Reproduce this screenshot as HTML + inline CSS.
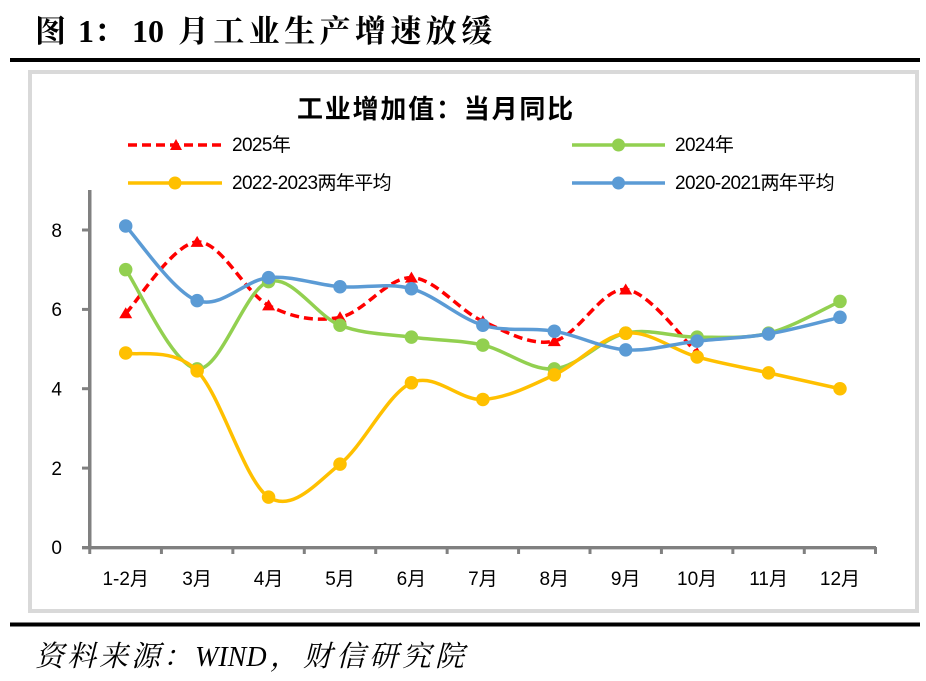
<!DOCTYPE html>
<html>
<head>
<meta charset="utf-8">
<style>
html,body{margin:0;padding:0;background:#fff;}
body{width:926px;height:681px;overflow:hidden;}
svg{display:block;}
.cjkserif{font-family:"Liberation Serif","Noto Serif CJK SC",serif;}
.sans{font-family:"Liberation Sans","Noto Sans CJK SC",sans-serif;}
</style>
</head>
<body>
<svg width="926" height="681" viewBox="0 0 926 681" xmlns="http://www.w3.org/2000/svg">
  <rect x="0" y="0" width="926" height="681" fill="#fff"/>

  <!-- Main title -->
  <g class="cjkserif" font-weight="700" fill="#000">
    <text x="35" y="42" font-size="31">图</text>
    <text x="78" y="42" font-size="32" font-family="Liberation Serif, serif">1</text>
    <text x="94" y="42" font-size="31">：</text>
    <text x="132" y="42" font-size="32" font-family="Liberation Serif, serif">10</text>
    <text x="178" y="42" font-size="31" letter-spacing="4.4">月工业生产增速放缓</text>
  </g>

  <!-- heavy rules -->
  <rect x="10" y="58" width="910" height="4" fill="#000"/>
  <rect x="10" y="622.5" width="910" height="4" fill="#000"/>

  <!-- chart box -->
  <rect x="30" y="72" width="887" height="539" fill="#fff" stroke="#d9d9d9" stroke-width="4"/>

  <!-- chart title -->
  <text x="436" y="118" text-anchor="middle" font-size="26" font-weight="700" letter-spacing="1.8" font-family="Liberation Sans, Noto Sans CJK SC, sans-serif" fill="#000">工业增加值：当月同比</text>

  <!-- legend -->
  <g>
    <line x1="128" y1="145" x2="222" y2="145" stroke="#ff0000" stroke-width="3.5" stroke-dasharray="9 5"/>
    <path d="M176,139 L182,150 L170,150 Z" fill="#ff0000"/>
    <text x="232" y="151" font-size="19" letter-spacing="-0.6" class="sans" fill="#000">2025年</text>

    <line x1="572" y1="145" x2="665" y2="145" stroke="#92d050" stroke-width="3.5"/>
    <circle cx="618.5" cy="145" r="6.5" fill="#92d050"/>
    <text x="675" y="151" font-size="19" letter-spacing="-0.6" class="sans" fill="#000">2024年</text>

    <line x1="128" y1="183" x2="222" y2="183" stroke="#ffc000" stroke-width="3.5"/>
    <circle cx="175" cy="183" r="6.5" fill="#ffc000"/>
    <text x="232" y="189" font-size="19" letter-spacing="-0.6" class="sans" fill="#000">2022-2023两年平均</text>

    <line x1="572" y1="183" x2="665" y2="183" stroke="#5b9bd5" stroke-width="3.5"/>
    <circle cx="618.5" cy="183" r="6.5" fill="#5b9bd5"/>
    <text x="675" y="189" font-size="19" letter-spacing="-0.6" class="sans" fill="#000">2020-2021两年平均</text>
  </g>

  <!-- axes -->
  <g stroke="#808080" fill="none">
    <line x1="89.75" y1="190" x2="89.75" y2="549" stroke-width="3.5"/>
    <line x1="82" y1="547.7" x2="876" y2="547.7" stroke-width="3.3"/>
    <g stroke-width="3">
      <line x1="82" y1="468.1" x2="89" y2="468.1"/>
      <line x1="82" y1="388.7" x2="89" y2="388.7"/>
      <line x1="82" y1="309.4" x2="89" y2="309.4"/>
      <line x1="82" y1="230" x2="89" y2="230"/>
      <line x1="161.43" y1="547" x2="161.43" y2="554"/>
      <line x1="232.86" y1="547" x2="232.86" y2="554"/>
      <line x1="304.29" y1="547" x2="304.29" y2="554"/>
      <line x1="375.71" y1="547" x2="375.71" y2="554"/>
      <line x1="447.14" y1="547" x2="447.14" y2="554"/>
      <line x1="518.57" y1="547" x2="518.57" y2="554"/>
      <line x1="590" y1="547" x2="590" y2="554"/>
      <line x1="661.43" y1="547" x2="661.43" y2="554"/>
      <line x1="732.86" y1="547" x2="732.86" y2="554"/>
      <line x1="804.29" y1="547" x2="804.29" y2="554"/>
      <line x1="875.5" y1="547" x2="875.5" y2="554"/>
      <line x1="89.75" y1="547" x2="89.75" y2="554"/>
    </g>
  </g>

  <!-- y labels -->
  <g class="sans" font-size="19" fill="#000" text-anchor="end">
    <text x="62" y="554">0</text>
    <text x="62" y="475">2</text>
    <text x="62" y="395.5">4</text>
    <text x="62" y="316">6</text>
    <text x="62" y="237">8</text>
  </g>

  <!-- x labels -->
  <g class="sans" font-size="19" fill="#000" text-anchor="middle">
    <text x="125.7" y="585">1-2月</text>
    <text x="197.1" y="585">3月</text>
    <text x="268.6" y="585">4月</text>
    <text x="340" y="585">5月</text>
    <text x="411.4" y="585">6月</text>
    <text x="482.9" y="585">7月</text>
    <text x="554.3" y="585">8月</text>
    <text x="625.7" y="585">9月</text>
    <text x="697.1" y="585">10月</text>
    <text x="768.6" y="585">11月</text>
    <text x="840" y="585">12月</text>
  </g>

  <!-- 2025 red dashed -->
  <path fill="none" stroke="#ff0000" stroke-width="3.5" stroke-dasharray="9 5"
    d="M125.71,313.33 C137.62,301.42 173.33,243.21 197.14,241.89
       C220.95,240.57 244.76,292.82 268.57,305.39
       C292.38,317.96 316.19,321.93 340,317.30
       C363.81,312.67 387.62,276.95 411.43,277.61
       C435.24,278.27 459.05,310.69 482.86,321.27
       C506.67,331.85 530.48,346.40 554.29,341.11
       C578.10,335.82 601.90,287.52 625.71,289.51
       C649.52,291.50 685.24,342.43 697.14,353.02"/>
  <g fill="#ff0000">
    <path d="M125.71,307.3 L132.2,318.3 L119.2,318.3 Z"/>
    <path d="M197.14,235.9 L203.6,246.9 L190.6,246.9 Z"/>
    <path d="M268.57,299.4 L275.1,310.4 L262.1,310.4 Z"/>
    <path d="M340,311.3 L346.5,322.3 L333.5,322.3 Z"/>
    <path d="M411.43,271.6 L417.9,282.6 L404.9,282.6 Z"/>
    <path d="M482.86,315.3 L489.4,326.3 L476.4,326.3 Z"/>
    <path d="M554.29,335.1 L560.8,346.1 L547.8,346.1 Z"/>
    <path d="M625.71,283.5 L632.2,294.5 L619.2,294.5 Z"/>
    <path d="M697.14,347.0 L703.6,358.0 L690.6,358.0 Z"/>
  </g>

  <!-- 2024 green -->
  <path fill="none" stroke="#92d050" stroke-width="3.5"
    d="M125.71,269.67 C137.62,286.21 173.33,366.90 197.14,368.89
       C220.95,370.88 244.76,288.86 268.57,281.58
       C292.38,274.30 316.19,315.98 340,325.24
       C363.81,334.50 387.62,333.83 411.43,337.14
       C435.24,340.45 459.05,339.79 482.86,345.08
       C506.67,350.37 530.48,370.88 554.29,368.89
       C578.10,366.90 601.90,338.46 625.71,333.17
       C649.52,327.88 673.33,337.14 697.14,337.14
       C720.95,337.14 744.76,339.12 768.57,333.17
       C792.38,327.22 828.10,306.71 840,301.42"/>
  <g fill="#92d050">
    <circle cx="125.71" cy="269.67" r="6.75"/>
    <circle cx="197.14" cy="368.89" r="6.75"/>
    <circle cx="268.57" cy="281.58" r="6.75"/>
    <circle cx="340" cy="325.24" r="6.75"/>
    <circle cx="411.43" cy="337.14" r="6.75"/>
    <circle cx="482.86" cy="345.08" r="6.75"/>
    <circle cx="554.29" cy="368.89" r="6.75"/>
    <circle cx="625.71" cy="333.17" r="6.75"/>
    <circle cx="697.14" cy="337.14" r="6.75"/>
    <circle cx="768.57" cy="333.17" r="6.75"/>
    <circle cx="840" cy="301.42" r="6.75"/>
  </g>

  <!-- 2022-2023 yellow -->
  <path fill="none" stroke="#ffc000" stroke-width="3.5"
    d="M125.71,353.02 C137.62,356.00 173.33,346.87 197.14,370.88
       C220.95,394.89 244.76,481.54 268.57,497.09
       C292.38,512.64 316.19,483.20 340,464.15
       C363.81,445.10 387.62,393.57 411.43,382.79
       C435.24,372.01 459.05,400.78 482.86,399.46
       C506.67,398.14 530.48,385.90 554.29,374.85
       C578.10,363.80 601.90,336.15 625.71,333.17
       C649.52,330.19 673.33,350.37 697.14,356.99
       C720.95,363.61 744.76,367.57 768.57,372.86
       C792.38,378.15 828.10,386.09 840,388.74"/>
  <g fill="#ffc000">
    <circle cx="125.71" cy="353.02" r="6.75"/>
    <circle cx="197.14" cy="370.88" r="6.75"/>
    <circle cx="268.57" cy="497.09" r="6.75"/>
    <circle cx="340" cy="464.15" r="6.75"/>
    <circle cx="411.43" cy="382.79" r="6.75"/>
    <circle cx="482.86" cy="399.46" r="6.75"/>
    <circle cx="554.29" cy="374.85" r="6.75"/>
    <circle cx="625.71" cy="333.17" r="6.75"/>
    <circle cx="697.14" cy="356.99" r="6.75"/>
    <circle cx="768.57" cy="372.86" r="6.75"/>
    <circle cx="840" cy="388.74" r="6.75"/>
  </g>

  <!-- 2020-2021 blue -->
  <path fill="none" stroke="#5b9bd5" stroke-width="3.5"
    d="M125.71,226.01 C137.62,238.45 173.33,292.03 197.14,300.63
       C220.95,309.23 244.76,279.93 268.57,277.61
       C292.38,275.29 316.19,284.89 340,286.74
       C363.81,288.59 387.62,282.30 411.43,288.72
       C435.24,295.14 459.05,318.16 482.86,325.24
       C506.67,332.32 530.48,327.09 554.29,331.19
       C578.10,335.29 601.90,348.19 625.71,349.84
       C649.52,351.49 673.33,343.76 697.14,341.11
       C720.95,338.46 744.76,337.94 768.57,333.97
       C792.38,330.00 828.10,320.08 840,317.30"/>
  <g fill="#5b9bd5">
    <circle cx="125.71" cy="226.01" r="6.75"/>
    <circle cx="197.14" cy="300.63" r="6.75"/>
    <circle cx="268.57" cy="277.61" r="6.75"/>
    <circle cx="340" cy="286.74" r="6.75"/>
    <circle cx="411.43" cy="288.72" r="6.75"/>
    <circle cx="482.86" cy="325.24" r="6.75"/>
    <circle cx="554.29" cy="331.19" r="6.75"/>
    <circle cx="625.71" cy="349.84" r="6.75"/>
    <circle cx="697.14" cy="341.11" r="6.75"/>
    <circle cx="768.57" cy="333.97" r="6.75"/>
    <circle cx="840" cy="317.30" r="6.75"/>
  </g>

  <!-- source -->
  <g class="cjkserif" font-style="italic" fill="#000">
    <text x="35" y="666" font-size="29" letter-spacing="3">资料来源：</text>
    <text x="195" y="666" font-size="28" font-family="Liberation Serif, serif">WIND</text>
    <text x="270" y="666" font-size="29" letter-spacing="4">，财信研究院</text>
  </g>
</svg>
</body>
</html>
